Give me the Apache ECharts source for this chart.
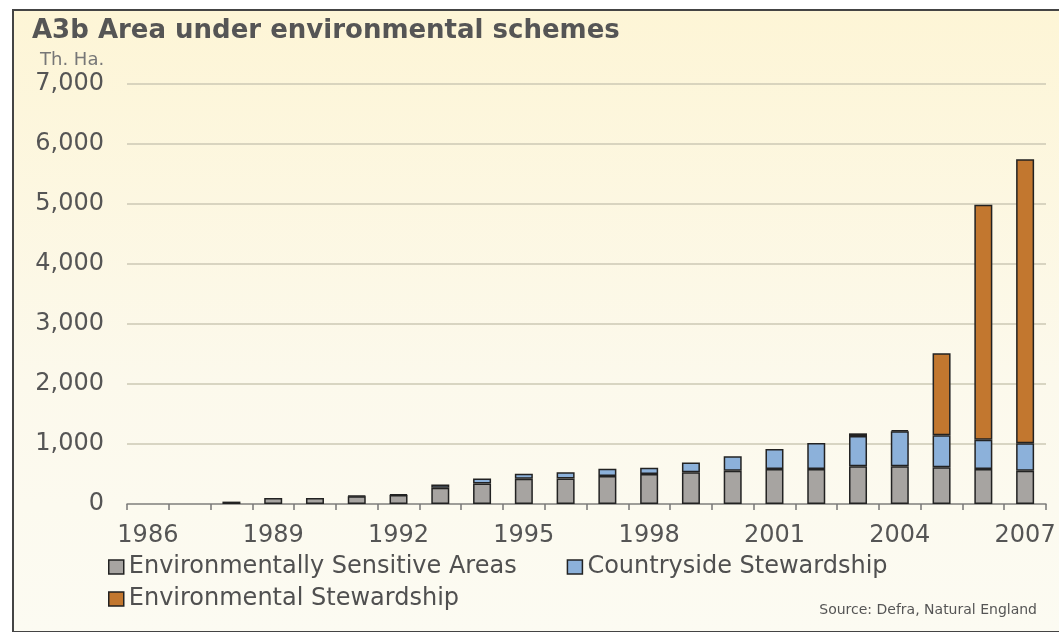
<!DOCTYPE html>
<html>
<head>
<meta charset="utf-8">
<title>A3b Area under environmental schemes</title>
<script src="https://cdn.jsdelivr.net/npm/echarts@6/dist/echarts.min.js"></script>
<style>
  html, body { margin: 0; padding: 0; background: #ffffff; }
  #frame {
    position: absolute; left: 12px; top: 9px; width: 1100px; height: 620px;
    border: 2px solid #444;
    background: linear-gradient(#fdf5d6, #fcf9ec 60%, #fcfbf2);
  }
  #main { position: absolute; left: 0; top: 0; width: 1059px; height: 632px; }
</style>
</head>
<body>
<div id="frame"></div>
<div id="main"></div>
<script>
// years on the x axis
var years = ['1986','1987','1988','1989','1990','1991','1992','1993','1994','1995','1996',
             '1997','1998','1999','2000','2001','2002','2003','2004','2005','2006','2007'];
// thousand hectares
var esa = ['-','-',40,100,100,130,150,270,340,420,425,467,500,530,555,583,583,628,628,611,583,555];
var cs  = ['-','-','-','-','-',10,12,55,87,85,103,121,105,160,240,334,434,505,583,533,489,456];
var es  = ['-','-','-','-','-','-','-','-','-','-','-','-','-','-','-','-','-',45,22,1367,3917,4733];

var names = ['Environmentally Sensitive Areas', 'Countryside Stewardship', 'Environmental Stewardship'];
var colors = ['#a7a4a1', '#8cb1da', '#c2772f'];
var font = 'DejaVu Sans';

var chart = echarts.init(document.getElementById('main'));

function barSeries(name, data, color) {
  return {
    name: name,
    type: 'bar',
    stack: 'area',
    data: data,
    barWidth: 18,
    itemStyle: { color: color, borderColor: '#222', borderWidth: 1.5 }
  };
}

chart.setOption({
  animation: false,
  color: colors,
  textStyle: { fontFamily: font },
  title: [{
    text: 'A3b Area under environmental schemes',
    left: 27, top: 13,
    textStyle: { fontFamily: font, fontWeight: 'bold', fontSize: 26, color: '#555' }
  }, {
    text: 'Th. Ha.',
    left: 35, top: 46,
    textStyle: { fontFamily: font, fontWeight: 'normal', fontSize: 18, color: '#777' }
  }, {
    text: 'Source: Defra, Natural England',
    right: 17, top: 598,
    textStyle: { fontFamily: font, fontWeight: 'normal', fontSize: 14, color: '#555' }
  }],
  grid: { left: 127, right: 13, top: 84, bottom: 128, containLabel: false },
  xAxis: {
    type: 'category',
    data: years,
    axisLine: { lineStyle: { color: '#8a8a8a', width: 1.5 } },
    axisTick: { show: true, interval: 0, length: 6, lineStyle: { color: '#777', width: 1.5 } },
    axisLabel: { interval: 2, margin: 20, fontSize: 24, color: '#555', fontFamily: font }
  },
  yAxis: {
    type: 'value',
    min: 0, max: 7000, interval: 1000,
    axisLine: { show: false },
    axisTick: { show: false },
    axisLabel: {
      margin: 23, fontSize: 24, color: '#555', fontFamily: font,
      formatter: function (v) { return v.toLocaleString('en-US'); }
    },
    splitLine: { lineStyle: { color: '#ccc8b4', width: 1.5 } }
  },
  legend: [{
    data: [names[0], names[1]],
    left: 103, top: 550,
    itemWidth: 15, itemHeight: 14, itemGap: 50,
    icon: 'rect',
    itemStyle: { borderColor: '#222', borderWidth: 1.5 },
    textStyle: { fontSize: 24, color: '#505050', fontFamily: font }
  }, {
    data: [names[2]],
    left: 103, top: 582,
    itemWidth: 15, itemHeight: 14,
    icon: 'rect',
    itemStyle: { borderColor: '#222', borderWidth: 1.5 },
    textStyle: { fontSize: 24, color: '#505050', fontFamily: font }
  }],
  series: [
    barSeries(names[0], esa, colors[0]),
    barSeries(names[1], cs, colors[1]),
    barSeries(names[2], es, colors[2])
  ]
});
</script>
</body>
</html>
